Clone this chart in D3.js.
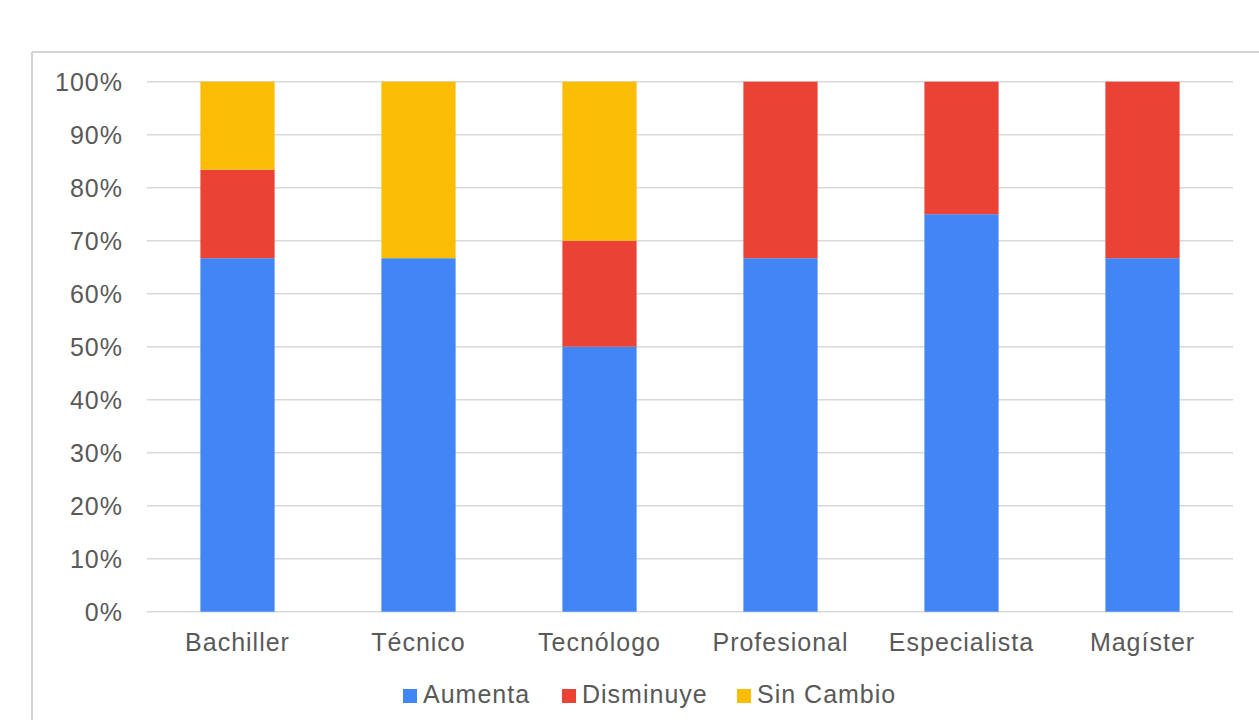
<!DOCTYPE html>
<html><head><meta charset="utf-8">
<script src="https://cdn.jsdelivr.net/npm/d3@7"></script>
<style>
html,body{margin:0;padding:0;background:#fff;}
svg{display:block;}
text{font-family:"Liberation Sans",Arial,sans-serif;fill:#595959;letter-spacing:1px;}
</style></head>
<body>
<svg id="chart" width="1259" height="720"></svg>
<script>
const categories = ["Bachiller","Técnico","Tecnólogo","Profesional","Especialista","Magíster"];
const seriesNames = ["Aumenta","Disminuye","Sin Cambio"];
const aumenta   = [66.7, 66.7, 50, 66.7, 75, 66.7];
const disminuye = [16.7, 0, 20, 33.3, 25, 33.3];
const sinCambio = [16.6, 33.3, 30, 0, 0, 0];
const colors = ["#4285F4","#EA4335","#FBBC04"];
const yTicks = [0,10,20,30,40,50,60,70,80,90,100];

const svg = d3.select("#chart");
const W = 1259, H = 720;
const margin = {left:147, right:W-1233, top:81.7, bottom:H-611.7};

// outer frame
svg.append("line").attr("x1",32).attr("x2",W).attr("y1",52).attr("y2",52)
  .attr("stroke","#d4d4d4").attr("stroke-width",2);
svg.append("line").attr("x1",32).attr("x2",32).attr("y1",52).attr("y2",H)
  .attr("stroke","#d4d4d4").attr("stroke-width",2);

const x = d3.scaleBand().domain(categories).range([margin.left, W-margin.right]).paddingInner(0.59).paddingOuter(0.295);
const y = d3.scaleLinear().domain([0,100]).range([H-margin.bottom, margin.top]);

// gridlines
svg.append("g").selectAll("line").data(yTicks).join("line")
  .attr("x1",margin.left).attr("x2",W-margin.right)
  .attr("y1",d=>y(d)).attr("y2",d=>y(d))
  .attr("stroke","#d9d9d9").attr("stroke-width",1.6);

// y labels
const yAxis = d3.axisLeft(y).tickValues(yTicks).tickFormat(d=>d+"%").tickSize(0).tickPadding(0);
const gy = svg.append("g").attr("transform","translate(123,0)").call(yAxis);
gy.select(".domain").remove();
gy.selectAll("text").attr("font-size",25).attr("fill","#595959")
  .style("font-family","'Liberation Sans',Arial,sans-serif").attr("dy","0.35em");

// stacked data
const table = categories.map((c,i)=>({cat:c, "Aumenta":aumenta[i], "Disminuye":disminuye[i], "Sin Cambio":sinCambio[i]}));
const stack = d3.stack().keys(seriesNames)(table);

svg.append("g").selectAll("g").data(stack).join("g")
  .attr("fill",(d,i)=>colors[i])
  .selectAll("rect").data(d=>d).join("rect")
  .attr("x",d=>x(d.data.cat))
  .attr("width",x.bandwidth())
  .attr("y",d=>y(d[1]))
  .attr("height",d=>y(d[0])-y(d[1]));

// x labels
const xAxis = d3.axisBottom(x).tickSize(0).tickPadding(0);
const gx = svg.append("g").attr("transform","translate(0,651)").call(xAxis);
gx.select(".domain").remove();
gx.selectAll("text").attr("font-size",25).attr("fill","#595959").attr("dy",0)
  .style("font-family","'Liberation Sans',Arial,sans-serif");

// legend
const legendX = [403, 562, 737];
const lg = svg.append("g").selectAll("g").data(seriesNames).join("g")
  .attr("transform",(d,i)=>`translate(${legendX[i]},0)`);
lg.append("rect").attr("x",0).attr("y",689).attr("width",14).attr("height",14).attr("fill",(d,i)=>colors[i]);
lg.append("text").attr("x",20).attr("y",703).attr("font-size",25).attr("fill","#595959").text(d=>d);
</script>
</body></html>
